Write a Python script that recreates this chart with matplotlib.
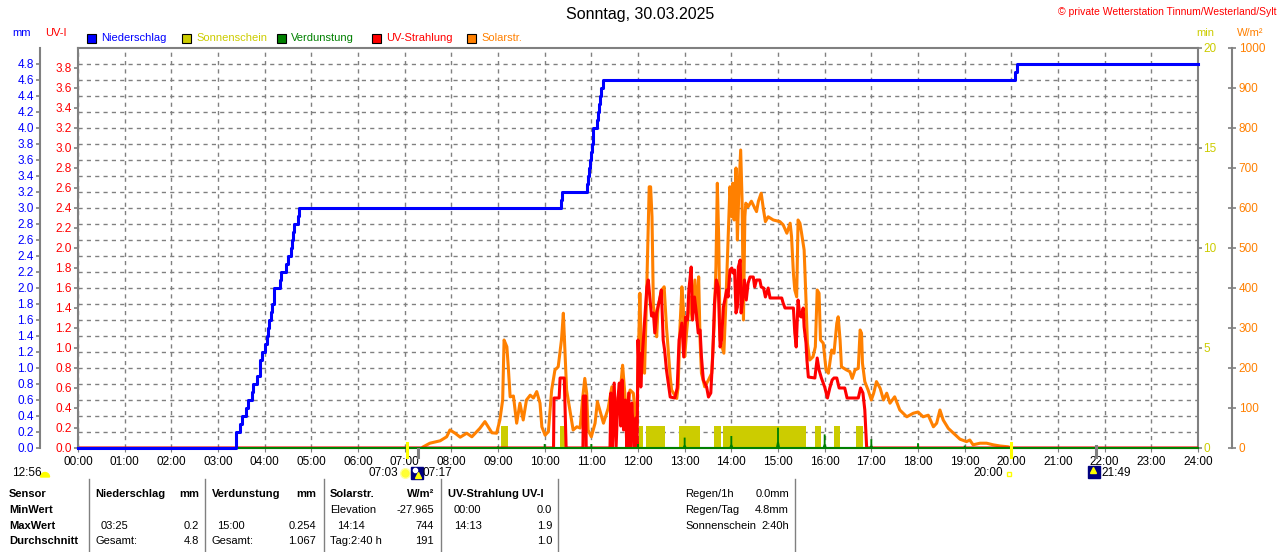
import matplotlib
matplotlib.use("Agg")
import matplotlib.pyplot as plt
import matplotlib.transforms as mtransforms
from matplotlib.patches import Rectangle, Wedge
import numpy as np

plt.rcParams['font.family'] = ['Liberation Sans', 'DejaVu Sans']

# ---- data, time in hours of the day ----
# Niederschlag (cumulated, mm), step line
rain_t = [0, 3.385, 3.47, 3.51, 3.60, 3.64, 3.72, 3.76, 3.83, 3.89, 3.91, 3.95,
          4.01, 4.04, 4.08, 4.10, 4.13, 4.16, 4.19, 4.21, 4.33, 4.36, 4.46, 4.49,
          4.56, 4.59, 4.61, 4.63, 4.72, 4.74, 10.34, 10.37, 10.90, 10.92, 10.95,
          10.97, 10.99, 11.01, 11.03, 11.04, 11.12, 11.14, 11.16, 11.19, 11.21,
          11.24, 20.07, 20.12, 24]
rain_mm = [0, 0.2, 0.3, 0.4, 0.5, 0.6, 0.7, 0.8, 0.9, 1.0, 1.1, 1.2,
           1.3, 1.4, 1.5, 1.6, 1.7, 1.8, 1.9, 2.0, 2.1, 2.2, 2.3, 2.4,
           2.5, 2.6, 2.7, 2.8, 2.9, 3.0, 3.1, 3.2, 3.3, 3.4, 3.5,
           3.6, 3.7, 3.8, 3.9, 4.0, 4.1, 4.2, 4.3, 4.4, 4.5,
           4.6, 4.7, 4.8, 4.8]

# Solarstrahlung W/m2
solar_t = [7.40, 7.54, 7.76, 7.90, 7.97, 8.08, 8.19, 8.33, 8.44, 8.61, 8.72, 8.79,
           8.87, 8.97, 9.04, 9.10, 9.13, 9.19, 9.22, 9.26, 9.33, 9.40, 9.47, 9.54,
           9.61, 9.69, 9.76, 9.83, 9.90, 9.94, 10.01, 10.08, 10.15, 10.22, 10.29,
           10.36, 10.40, 10.43, 10.47, 10.54, 10.61, 10.69, 10.76, 10.81, 10.86,
           10.90, 10.93, 11.00, 11.08, 11.13, 11.19, 11.26, 11.36, 11.44, 11.51,
           11.58, 11.61, 11.67, 11.74, 11.76, 11.83, 11.90, 11.97, 12.04, 12.07,
           12.14, 12.19, 12.24, 12.27, 12.30, 12.33, 12.36, 12.40, 12.43, 12.51,
           12.56, 12.61, 12.69, 12.72, 12.83, 12.86, 12.90, 12.94, 12.97, 13.00,
           13.04, 13.11, 13.16, 13.22, 13.26, 13.30, 13.33, 13.36, 13.43, 13.51,
           13.58, 13.63, 13.67, 13.70, 13.73, 13.76, 13.80, 13.84, 13.88, 13.91,
           13.97, 14.01, 14.03, 14.06, 14.10, 14.13, 14.16, 14.20, 14.23, 14.26,
           14.29, 14.31, 14.36, 14.43, 14.49, 14.54, 14.58, 14.64, 14.69, 14.73,
           14.79, 14.90, 15.04, 15.11, 15.19, 15.26, 15.29, 15.33, 15.36, 15.40,
           15.43, 15.47, 15.50, 15.56, 15.60, 15.63, 15.68, 15.75, 15.80, 15.84,
           15.88, 15.91, 15.97, 16.03, 16.08, 16.15, 16.20, 16.26, 16.29, 16.33,
           16.36, 16.47, 16.54, 16.59, 16.65, 16.72, 16.76, 16.79, 16.81, 16.86,
           16.93, 17.00, 17.05, 17.11, 17.19, 17.26, 17.33, 17.40, 17.50, 17.61,
           17.76, 17.90, 18.00, 18.11, 18.22, 18.33, 18.40, 18.47, 18.54, 18.65,
           18.76, 18.90, 19.04, 19.11, 19.18, 19.33, 19.47, 19.61, 19.76, 19.93,
           20.00]
solar_w = [3, 12, 18, 28, 45, 37, 27, 37, 28, 49, 66, 53,
           38, 37, 70, 120, 270, 253, 203, 128, 130, 62, 112, 70,
           120, 132, 125, 141, 112, 53, 32, 41, 145, 195, 203,
           270, 337, 253, 145, 95, 45, 53, 50, 120, 174,
           137, 45, 28, 62, 116, 91, 62, 99, 153, 87,
           128, 128, 207, 103, 87, 145, 137, 45, 387, 253,
           187, 412, 653, 653, 578, 353, 337, 278, 353, 395,
           403, 303, 178, 145, 124, 153, 303, 403, 353, 228,
           287, 378, 320, 420, 320, 428, 270, 187, 153, 170,
           187, 303, 453, 662, 520, 270, 253, 237, 353, 453,
           653, 578, 662, 570, 700, 520, 637, 745, 620, 320,
           578, 612, 603, 617, 603, 591, 617, 637, 595, 566,
           578, 570, 566, 558, 537, 562, 529, 437, 395, 378,
           570, 562, 541, 495, 370, 262, 220, 228, 253, 395,
           387, 270, 262, 195, 187, 245, 237, 312, 328, 270,
           203, 195, 191, 174, 195, 199, 295, 287, 212, 166,
           145, 120, 137, 166, 149, 120, 137, 112, 128, 95,
           78, 87, 90, 78, 82, 53, 62, 95, 70, 49,
           37, 22, 16, 20, 8, 12, 12, 8, 5, 3,
           0]

# UV-Strahlung UV-I
uv_t = [0, 10.19, 10.20, 10.31, 10.33, 10.42, 10.46, 10.82, 10.83, 10.88, 10.89,
        11.40, 11.42, 11.45, 11.49, 11.53, 11.57, 11.60, 11.63, 11.66, 11.69,
        11.73, 11.76, 11.80, 11.83, 11.87, 11.91, 11.95, 11.98, 12.00, 12.02,
        12.04, 12.06, 12.10, 12.19, 12.22, 12.26, 12.29, 12.33, 12.36, 12.40,
        12.46, 12.50, 12.54, 12.57, 12.61, 12.69, 12.79, 12.84, 12.88, 12.94,
        12.98, 13.02, 13.06, 13.09, 13.14, 13.17, 13.21, 13.25, 13.29, 13.33,
        13.36, 13.40, 13.47, 13.51, 13.56, 13.60, 13.64, 13.68, 13.72, 13.76,
        13.79, 13.83, 13.86, 13.90, 13.93, 13.97, 14.01, 14.04, 14.07, 14.10,
        14.13, 14.15, 14.19, 14.21, 14.25, 14.28, 14.32, 14.36, 14.40, 14.47,
        14.50, 14.54, 14.61, 14.64, 14.69, 14.73, 14.79, 14.83, 15.08, 15.11,
        15.15, 15.33, 15.36, 15.39, 15.43, 15.47, 15.50, 15.54, 15.56, 15.60,
        15.62, 15.65, 15.79, 15.84, 15.88, 15.93, 16.00, 16.06, 16.11, 16.16,
        16.20, 16.26, 16.31, 16.43, 16.48, 16.72, 16.77, 16.82, 16.86, 16.90,
        24]
uv_val = [0, 0, 0.5, 0.5, 0.7, 0.7, 0, 0, 0.52, 0.52, 0,
          0, 0.55, 0, 0.65, 0, 0.5, 0.65, 0.22, 0.68, 0.18,
          0.48, 0, 0.55, 0, 0.45, 0, 0.3, 0, 1.08, 0.78,
          0.95, 0.61, 0.98, 1.61, 1.68, 1.48, 1.32, 1.35, 1.15, 1.35,
          1.48, 1.58, 1.08, 0.98, 0.78, 0.51, 0.5, 0.6, 1.08, 1.25,
          0.91, 1.31, 1.28, 1.58, 1.81, 1.28, 1.51, 1.35, 1.15, 1.18,
          0.91, 0.68, 0.61, 0.51, 0.55, 0.91, 1.45, 1.68, 1.61, 1.01,
          1.08, 1.41, 1.48, 1.58, 1.51, 1.78, 1.8, 1.75, 1.78, 1.35,
          1.41, 1.81, 1.88, 1.35, 1.51, 1.68, 1.48, 1.65, 1.71, 1.71,
          1.61, 1.68, 1.68, 1.61, 1.6, 1.51, 1.6, 1.5, 1.5, 1.45,
          1.4, 1.4, 1.15, 1.01, 1.48, 1.32, 1.31, 1.4, 1.21, 1.05,
          0.88, 0.71, 0.70, 0.9, 0.78, 0.70, 0.61, 0.5, 0.6, 0.68,
          0.70, 0.70, 0.6, 0.6, 0.5, 0.5, 0.6, 0.55, 0.38, 0.0,
          0]

# Sonnenschein (min), blocks
sun_start = [9.07, 10.33, 12.03, 12.17, 12.88, 13.63, 13.83, 15.79, 16.20, 16.68]
sun_end = [9.22, 10.44, 12.10, 12.58, 13.33, 13.77, 15.61, 15.93, 16.33, 16.83]
sun_min = 1.08

# Verdunstung per hour (mm)
evap_h = [9, 10, 11, 12, 13, 14, 15, 16, 17, 18, 19]
evap_mm = [0.02, 0.05, 0.05, 0.05, 0.13, 0.15, 0.254, 0.17, 0.11, 0.06, 0.03]

# Sonnenaufgang / Mondaufgang / Sonnenuntergang / Monduntergang
event_t = [7.05, 7.283, 20.0, 21.817]
event_lbl = ["07:03", "07:17", "20:00", "21:49"]

hour_lbl = ["%02d:00" % h for h in range(25)]
mm_ticks = np.round(np.arange(0, 4.81, 0.2), 1)
uv_ticks = np.round(np.arange(0, 3.81, 0.2), 1)
min_ticks = [0, 5, 10, 15, 20]
w_ticks = list(range(0, 1001, 100))

BLUE = '#0000ff'
RED = '#ff0000'
ORANGE = '#ff8000'
YELLOW = '#cccc00'
GREEN = '#008000'
GREY = '#808080'
PX = 0.72  # points per pixel at dpi 100
FS = 8.5

W, H = 1280, 552
fig = plt.figure(figsize=(W / 100, H / 100), dpi=100)

# base axes: mm scale + grid
ax = fig.add_axes([78 / W, 104 / H, 1120 / W, 400 / H])
ax.set_xlim(0, 24)
ax.set_ylim(0, 5.0)
ax.set_xticks(range(25))
ax.set_xticklabels(hour_lbl)
ax.set_yticks(mm_ticks)
ax.set_yticklabels(["%.1f" % v for v in mm_ticks])
ax.tick_params(axis='x', length=3, color=GREY, pad=3, labelsize=FS)
ax.tick_params(axis='y', length=4 * PX, color=GREY, pad=1.5, width=1.2,
               labelsize=FS, labelcolor=BLUE)
ax.spines['left'].set_position(('outward', 38 * PX))
ax.spines['right'].set_visible(False)
for s in ['left', 'top', 'bottom']:
    ax.spines[s].set_color(GREY)
    ax.spines[s].set_linewidth(1.5)
ax.grid(True, color=GREY, linestyle=(0, (3, 3)), linewidth=1)

# sunshine minutes
ax_min = ax.twinx()
ax_min.set_ylim(0, 20)
ax_min.bar(sun_start, sun_min, width=np.array(sun_end) - np.array(sun_start),
           align='edge', color=YELLOW, linewidth=0)
ax_min.set_yticks(min_ticks)
ax_min.set_yticklabels([str(v) for v in min_ticks])
ax_min.tick_params(axis='y', length=4 * PX, color=GREY, pad=1, width=1.2,
                   labelsize=FS, labelcolor=YELLOW)
for s in ['left', 'top', 'bottom']:
    ax_min.spines[s].set_visible(False)
ax_min.spines['right'].set_color(GREY)
ax_min.spines['right'].set_linewidth(1.5)

# solar radiation
ax_w = ax.twinx()
ax_w.set_ylim(0, 1000)
ax_w.plot(solar_t, solar_w, color=ORANGE, lw=2.2)
ax_w.set_yticks(w_ticks)
ax_w.set_yticklabels([str(v) for v in w_ticks])
ax_w.tick_params(axis='y', direction='inout', length=8 * PX, color=GREY, pad=2,
                 width=1.2, labelsize=FS, labelcolor=ORANGE)
ax_w.spines['right'].set_position(('outward', 34 * PX))
for s in ['left', 'top', 'bottom']:
    ax_w.spines[s].set_visible(False)
ax_w.spines['right'].set_color(GREY)
ax_w.spines['right'].set_linewidth(1.5)

# UV index
ax_uv = ax.twinx()
ax_uv.set_ylim(0, 4.0)
ax_uv.plot(uv_t, uv_val, color=RED, lw=2.2)
ax_uv.yaxis.tick_left()
ax_uv.set_yticks(uv_ticks)
ax_uv.set_yticklabels(["%.1f" % v for v in uv_ticks])
ax_uv.tick_params(axis='y', length=4 * PX, color=GREY, pad=1.5, width=1.2,
                  labelsize=FS, labelcolor=RED)
for s in ['right', 'top', 'bottom']:
    ax_uv.spines[s].set_visible(False)
ax_uv.spines['left'].set_color(GREY)
ax_uv.spines['left'].set_linewidth(1.5)

# rain + evaporation on top
ax_top = ax.twinx()
ax_top.set_ylim(0, 5.0)
ax_top.axis('off')
ax_top.axhline(0, color=GREEN, lw=1.5, clip_on=False)
for h, v in zip(evap_h, evap_mm):
    ax_top.fill([h - 0.045, h - 0.02, h - 0.02, h + 0.02, h + 0.02, h + 0.045],
                [0, v * 0.3, v, v, v * 0.3, 0], color=GREEN, lw=0)
ax_top.step(rain_t, rain_mm, where='post', color=BLUE, lw=2.2, clip_on=False)

# overlay in pixel coordinates for texts
ov = fig.add_axes([0, 0, 1, 1])
ov.set_autoscale_on(False)
ov.set_xlim(0, W)
ov.set_ylim(H, 0)
ov.set_axis_off()

ov.text(640, 15, "Sonntag, 30.03.2025", ha='center', va='center', fontsize=11.5)
ov.text(1277, 12, "\u00a9 private Wetterstation Tinnum/Westerland/Sylt",
        ha='right', va='center', fontsize=7.5, color=RED)
ov.text(22, 33, "mm", ha='center', va='center', fontsize=8, color=BLUE)
ov.text(56, 33, "UV-I", ha='center', va='center', fontsize=8, color=RED)
ov.text(1205, 33, "min", ha='center', va='center', fontsize=8, color=YELLOW)
ov.text(1250, 33, "W/m\u00b2", ha='center', va='center', fontsize=8, color=ORANGE)

legend = [("Niederschlag", BLUE, 87), ("Sonnenschein", YELLOW, 182),
          ("Verdunstung", GREEN, 277), ("UV-Strahlung", RED, 372),
          ("Solarstr.", ORANGE, 467)]
for name, col, x0 in legend:
    ov.add_patch(Rectangle((x0, 33.5), 9, 9, facecolor=col, edgecolor='black', lw=0.8))
    ov.text(x0 + 14, 38, name, ha='left', va='center', fontsize=8, color=col)

# sunrise / sunset markers below the x axis
ev = mtransforms.blended_transform_factory(ax.transData, ov.transData)
for t, col, y0 in zip(event_t, ['#ffff00', GREY, '#ffff00', GREY], [443, 449, 443, 446]):
    ov.plot([t, t], [y0, 457], color=col, lw=2.2, transform=ev, clip_on=False)

def ev_off(dx):
    return mtransforms.offset_copy(ev, fig=fig, x=dx, y=0, units='dots')

ov.annotate(event_lbl[0], xy=(event_t[0], 473), xycoords=ev, xytext=(-9 * PX, 0),
            textcoords='offset points', ha='right', va='center', fontsize=FS)
ov.plot([event_t[0]], [473], 'o', ms=7, color='#ffff33', mec='#ffffa0',
        transform=ev_off(-2), clip_on=False)
ov.plot([event_t[1]], [473], 's', ms=8, color='#000080', transform=ev_off(-1),
        clip_on=False)
ov.plot([event_t[1]], [470], 'o', ms=3, color='white', transform=ev_off(-3),
        clip_on=False)
ov.plot([event_t[1]], [475], '^', ms=4, color='#ffff00', transform=ev_off(0),
        clip_on=False)
ov.annotate(event_lbl[1], xy=(event_t[1], 473), xycoords=ev, xytext=(5 * PX, 0),
            textcoords='offset points', ha='left', va='center', fontsize=FS)

ov.annotate(event_lbl[2], xy=(event_t[2], 473), xycoords=ev, xytext=(-8 * PX, 0),
            textcoords='offset points', ha='right', va='center', fontsize=FS)
ov.plot([event_t[2]], [474], 's', ms=3.5, mfc='none', mec='#ffff00', mew=1,
        transform=ev_off(-2), clip_on=False)
ov.plot([event_t[3]], [472], 's', ms=8, color='#000080', transform=ev_off(-2),
        clip_on=False)
ov.plot([event_t[3]], [470], '^', ms=4, color='#ffff00', transform=ev_off(-3),
        clip_on=False)
ov.annotate(event_lbl[3], xy=(event_t[3], 473), xycoords=ev, xytext=(5 * PX, 0),
            textcoords='offset points', ha='left', va='center', fontsize=FS)

ov.text(12, 473, "12:56", ha='left', va='center', fontsize=FS)
ov.add_patch(Wedge((45, 477), 4.5, 180, 360, color='#ffff00'))

# summary table
rows_y = [494, 510, 526, 541]
for x in [89, 205, 324, 441, 558, 795]:
    ov.plot([x, x], [479, H], color=GREY, lw=1)

cells = [
    # (x, row, text, align, bold)
    (9, 0, "Sensor", 'left', True), (9, 1, "MinWert", 'left', True),
    (9, 2, "MaxWert", 'left', True), (9, 3, "Durchschnitt", 'left', True),
    (95, 0, "Niederschlag", 'left', True), (199, 0, "mm", 'right', True),
    (101, 2, "03:25", 'left', False), (199, 2, "0.2", 'right', False),
    (95, 3, "Gesamt:", 'left', False), (199, 3, "4.8", 'right', False),
    (212, 0, "Verdunstung", 'left', True), (316, 0, "mm", 'right', True),
    (217, 2, "15:00", 'left', False), (316, 2, "0.254", 'right', False),
    (212, 3, "Gesamt:", 'left', False), (316, 3, "1.067", 'right', False),
    (330, 0, "Solarstr.", 'left', True), (434, 0, "W/m\u00b2", 'right', True),
    (330, 1, "Elevation", 'left', False), (434, 1, "-27.965", 'right', False),
    (337, 2, "14:14", 'left', False), (434, 2, "744", 'right', False),
    (330, 3, "Tag:2:40 h", 'left', False), (434, 3, "191", 'right', False),
    (448, 0, "UV-Strahlung UV-I", 'left', True),
    (454, 1, "00:00", 'left', False), (552, 1, "0.0", 'right', False),
    (454, 2, "14:13", 'left', False), (552, 2, "1.9", 'right', False),
    (552, 3, "1.0", 'right', False),
    (685, 0, "Regen/1h", 'left', False), (789, 0, "0.0mm", 'right', False),
    (685, 1, "Regen/Tag", 'left', False), (789, 1, "4.8mm", 'right', False),
    (685, 2, "Sonnenschein", 'left', False), (789, 2, "2:40h", 'right', False),
]
for x, r, txt, al, bold in cells:
    ov.text(x, rows_y[r], txt, ha=al, va='center', fontsize=8,
            fontweight='bold' if bold else 'normal')

fig.savefig("out.png", dpi=100)
